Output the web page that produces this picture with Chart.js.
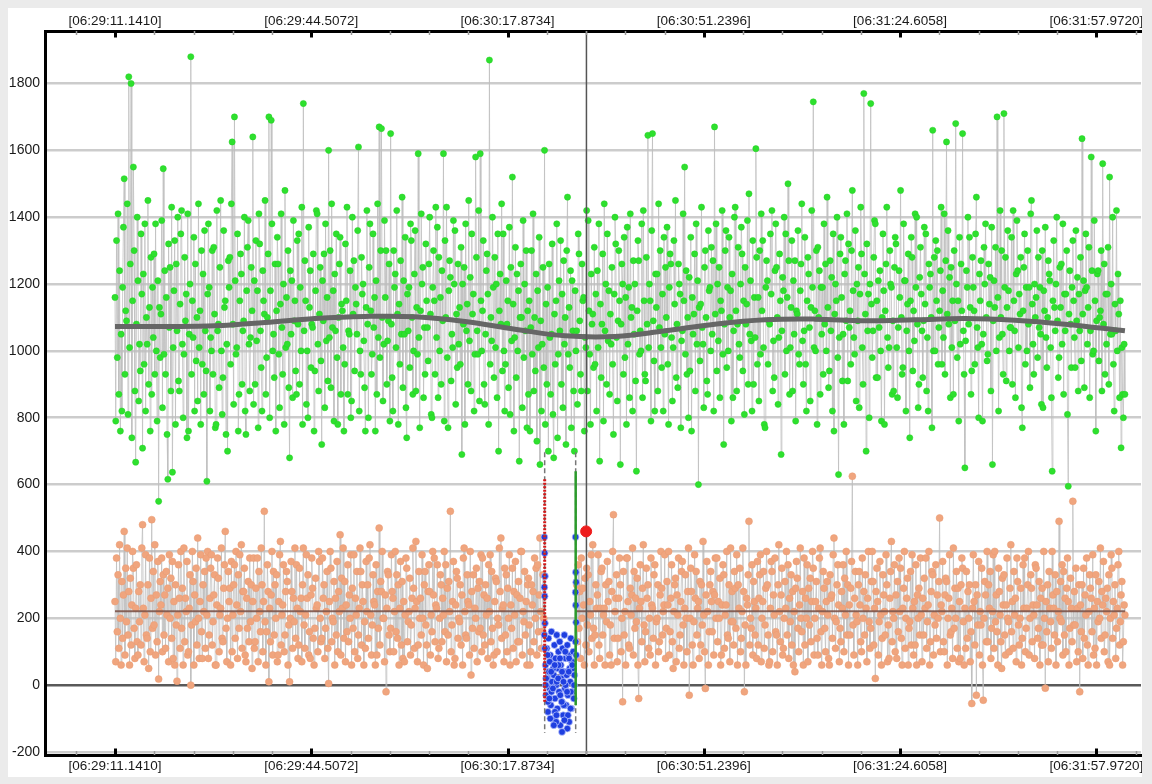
<!DOCTYPE html>
<html><head><meta charset="utf-8">
<script src="https://cdn.jsdelivr.net/npm/chart.js@4.4.0/dist/chart.umd.min.js"></script>
<style>
html,body{margin:0;padding:0;background:#ebebeb;width:1152px;height:784px;overflow:hidden}
#panel{position:absolute;left:8px;top:8px;width:1134px;height:769px;background:#fff;overflow:hidden}
canvas{display:block}
</style></head><body>
<div id="panel"><canvas id="c" width="1134" height="769"></canvas></div>
<script>
// ---- axis / tick data ----
const xTickValues = [0, 33.3662, 66.7324, 100.0986, 133.4648, 166.8310];
const xTickLabels = ['[06:29:11.1410]','[06:29:44.5072]','[06:30:17.8734]','[06:30:51.2396]','[06:31:24.6058]','[06:31:57.9720]'];
const xMinorStep = 6.67324;
const xMin = -11.9, xMax = 174.43;
const yTickValues = [-200, 0, 200, 400, 600, 800, 1000, 1200, 1400, 1600, 1800];
const yMin = -209, yMax = 1957;

// ---- sampled series (seconds after 06:29:11.1410) ----
const sampleStep = 0.13017;
const greenValues = [
1160,790,1330,980,1410,870,1240,760,1050,820,1190,1370,1515,930,1120,1090,1440,810,1820,1010,1260,1800,740,1150,1550,1300,880,667,1080,1400,
1210,850,1020,940,1350,1170,709,1230,960,1380,820,1100,1020,1450,900,1130,760,1280,870,1190,1040,1290,930,1380,1000,790,1210,550,1130,980,
1110,1390,830,1545,990,1240,930,1160,750,616,1320,1070,1250,880,1430,637,1010,1180,1330,780,1260,1060,1400,910,880,1140,1350,1420,1020,800,
990,1280,1090,1170,740,1410,760,1050,1200,1880,930,1150,1040,1340,820,1260,970,1100,850,1440,1010,1120,780,1300,960,1230,870,1360,1060,940,
610,1170,1380,1190,820,1040,1000,1300,930,1310,1110,770,780,1420,1060,1080,890,1250,1450,1000,810,920,1360,1130,1150,750,1020,700,1270,1190,
1280,960,1440,1625,1080,840,1700,1210,990,1010,1350,760,870,1150,1290,1230,900,1060,1090,1400,820,750,1180,1310,1390,1020,880,1040,1250,1120,
1640,840,1210,900,1330,1030,1180,770,1410,1320,1060,950,820,1240,1150,1110,1450,870,980,1100,1290,1700,800,1180,1690,1380,1000,1050,920,1260,
760,1120,1340,1260,990,830,1140,1410,1070,930,1200,780,1480,1010,1160,1020,1300,890,680,1240,1050,1210,860,1390,1090,1150,940,870,1330,1080,
1350,900,1190,1000,1430,780,1740,1060,1270,1150,840,1000,800,1370,1130,1240,950,1080,1070,1290,760,940,1180,1420,1410,1020,880,1110,1250,970,
720,1210,1090,1290,830,1380,1030,1160,910,1600,1040,1300,890,1440,1070,1180,790,1230,1060,1350,980,780,1100,1260,1340,870,1140,1120,1010,760,
960,1320,1150,1430,870,1060,1050,1240,800,850,1400,1110,1270,940,1190,1140,1050,1360,1610,820,1000,930,1280,1170,1200,1030,890,760,1130,1420,
1080,800,1250,1380,1120,930,990,1350,1070,1160,760,1210,870,1440,1040,1670,980,1300,1665,1100,850,1020,1390,1160,1300,900,1030,1090,1260,790,
1650,1080,920,820,1300,1190,1230,1010,1420,1110,780,1140,960,1270,1050,1460,890,1210,1050,1340,830,740,1170,1060,1190,950,1380,1330,1100,870,
1000,1230,1360,880,1130,990,1590,1040,770,1120,1410,1200,1250,860,1070,930,1320,1150,1070,970,1260,1400,1110,810,800,1190,1300,1150,930,1430,
1040,1370,860,1280,1000,1160,900,1240,1090,1590,790,1330,1100,1430,980,770,1180,1270,1220,910,1050,1010,1390,1200,1360,840,1110,950,1260,1020,
1130,960,1310,690,1200,1080,1250,780,1380,1060,1140,900,1450,1030,1220,880,1350,1110,1170,820,990,1580,1280,1060,990,1420,850,1590,1150,1000,
1120,1330,900,840,1050,1240,1290,1170,780,1870,960,1100,1030,1400,1190,920,1280,1010,1200,860,1350,700,1120,1230,1080,1440,940,1350,1000,820,
960,1210,1080,1150,890,1370,810,1250,1030,1520,1140,760,1040,1310,920,1230,1000,1180,670,1100,1260,1100,830,1390,980,1200,1060,1300,770,1120,
870,1150,760,1070,1300,990,1410,880,1100,940,1230,730,1180,1010,1340,660,1090,820,1020,1250,950,1600,780,1140,900,1190,700,1260,1040,870,
1050,1320,810,680,1110,960,1150,1380,740,990,1210,1060,1330,900,1170,830,1270,1020,1100,720,1300,1460,990,1130,950,1240,770,1210,1060,880,
700,1180,1000,1060,840,1350,1290,1090,930,880,1260,1150,1160,760,1040,1010,1420,880,1390,1120,990,780,1230,1080,1110,950,1310,960,1170,820,
1240,1010,1380,670,1140,920,1080,1290,790,1440,1060,1200,900,1350,1030,1180,870,1110,1020,1250,960,750,1170,1400,1320,1040,850,1090,1300,1150,
660,1080,1260,1200,930,1340,980,1160,780,1370,1020,1190,860,1410,1100,1130,820,1270,1050,1200,910,640,1120,1330,1270,990,1060,1000,1380,860,
1420,1150,930,910,1280,1080,1645,1010,1200,1150,790,1360,1650,1090,970,820,1230,1130,1230,880,1440,1070,1300,1010,950,1170,820,1340,1050,1250,
1100,1370,960,780,1190,1290,1260,1040,850,1010,1330,1140,1450,920,1080,890,1260,1200,1170,770,1030,1060,1410,1150,1550,990,1240,930,1100,800,
1220,940,1340,760,1160,1050,1110,1290,880,1380,1020,1210,600,1130,970,1140,1430,1070,1020,830,1250,1300,1100,910,870,1360,1180,1190,1000,1310,
1050,1270,820,1670,1110,1380,940,1200,1030,1250,860,1150,1120,1420,990,720,1080,1300,1360,950,1190,1000,1340,1100,1180,790,1230,860,1060,1400,
1430,1120,880,1080,1310,1020,980,1200,1370,1290,940,1150,810,1250,1080,1140,1390,900,1470,1050,1210,1030,820,1330,900,1160,1040,1605,1280,960,
1160,850,1300,990,1410,1120,1330,1010,780,770,1190,1270,1210,960,1090,1080,1350,1170,1420,880,1030,920,1240,1380,1250,1100,840,1040,1290,1150,
690,1060,1220,1180,1400,930,1350,1000,1160,1500,1270,870,1010,1130,1330,880,1210,1050,1270,790,1120,1110,1360,990,960,1180,1260,1440,1030,900,
1060,1340,960,820,1150,1280,1230,1070,850,1130,1420,1190,1745,1010,1120,1000,1300,780,1310,1100,1240,870,1190,1050,1190,930,1380,1080,1260,1000,
1460,1130,890,940,1270,1060,1220,820,1350,760,1110,1200,1150,1400,980,630,1040,1290,1340,1160,910,1050,780,1230,1270,1090,1410,910,1320,1070,
1120,960,1300,1480,1180,1040,990,1360,850,1200,1090,1250,830,1170,1430,1290,1010,900,1770,1230,1110,700,1320,1060,1170,800,1200,1740,1140,980,
1060,1280,1390,1380,920,1150,920,1210,1070,1240,1000,790,1100,1350,1180,780,1120,1260,1430,1040,950,1010,1300,1200,1190,870,1090,880,1250,1340,
1320,1010,860,1070,1240,1160,1480,1100,930,950,1380,1210,1210,820,1060,1140,1290,1000,740,1150,1340,1280,940,1120,1030,1410,1190,1400,1080,830,
900,1220,1310,1170,1060,920,1090,1370,1140,1350,880,1040,820,1260,1190,1230,1100,770,1660,1000,1280,1000,1330,1150,1300,960,1070,1120,1240,1430,
960,1180,1040,1410,930,1270,1625,1110,1360,1080,1220,860,1250,1010,1150,870,1300,1090,1680,1200,980,1150,790,1340,1020,1260,1120,1650,1060,930,
650,1030,1240,1190,1400,1080,1340,1130,870,940,1280,1190,1120,960,1350,1460,1070,1010,800,1230,1150,1270,1020,790,1050,1310,1200,1380,1100,970,
990,1260,1140,1220,880,1370,660,1090,1210,1130,1310,1000,1700,1160,820,1040,1420,1100,1300,1050,930,1710,1190,1280,910,1130,1360,1180,1000,1070,
1070,1340,900,1420,1150,1060,860,1230,1390,1240,1010,1170,1110,1280,830,770,1120,1250,1350,960,1190,1000,1300,1080,1190,890,1410,1450,1140,1020,
930,1200,1100,1160,1360,980,1280,1070,1190,1050,840,1300,830,1180,1120,1370,1040,950,1100,1270,1230,1210,1010,860,640,1150,1330,1130,1060,1200,
1400,1090,920,980,1250,1130,1260,1020,1380,870,1170,1060,1170,1300,810,595,1110,1240,1080,950,1190,1330,1150,1040,950,1360,1090,1220,880,1170,
1060,1280,970,1635,1110,1210,890,1180,1350,1190,1020,1130,1310,860,1060,1580,1240,990,1000,1390,1150,760,1090,1230,1240,970,1100,1120,1300,880,
1560,1080,1260,930,1170,1020,1170,1310,900,1520,1050,1200,1050,1400,960,820,1140,1060,1420,1000,1230,1110,860,1150,710,1010,870,800,1020,870
];
const orangeValues = [
250,70,380,160,330,110,420,200,60,310,140,270,460,90,350,190,410,150,280,60,320,120,240,400,350,170,80,230,360,130,
90,280,190,300,120,410,480,230,70,210,390,150,140,300,50,380,100,260,495,170,340,180,420,90,270,130,370,18,220,310,
240,380,100,330,150,270,110,340,210,290,70,390,200,320,140,370,80,250,60,300,180,12,210,360,260,110,400,170,290,60,
410,130,260,220,370,90,100,230,330,0,180,400,310,60,270,190,350,120,440,200,80,250,390,160,80,300,220,340,110,380,
210,400,80,150,260,350,390,120,190,270,330,60,60,240,380,320,100,210,230,410,140,130,290,360,460,170,70,200,340,250,
290,60,370,100,210,300,360,140,400,240,80,330,170,390,220,420,110,280,280,350,90,70,260,170,310,130,380,190,300,50,
250,380,110,130,290,200,380,70,340,220,160,410,300,100,250,520,190,60,160,360,280,10,230,130,270,400,90,340,150,300,
200,330,70,90,250,390,430,120,210,240,360,100,150,280,340,310,60,180,10,200,370,280,110,260,190,410,140,360,230,80,
120,350,220,260,70,300,410,180,110,210,390,260,330,90,160,80,270,380,290,140,60,170,320,230,240,100,400,370,200,130,
140,380,260,300,80,170,220,340,110,5,250,400,350,130,200,190,310,60,260,150,370,100,280,220,450,90,320,230,410,140,
310,70,240,160,360,130,270,200,390,60,290,170,390,100,260,210,340,80,150,230,410,340,120,300,250,60,190,110,370,220,
300,140,380,420,210,90,180,330,250,240,60,360,90,280,170,470,120,310,280,400,200,200,70,270,-20,230,340,330,150,100,
170,390,280,260,100,220,400,160,330,140,300,60,230,370,120,310,80,250,70,210,380,350,130,190,220,320,90,180,260,410,
290,110,230,430,250,70,120,340,200,260,150,390,200,60,300,340,180,120,50,280,360,280,90,210,160,400,270,380,130,240,
230,360,80,110,200,330,300,130,260,210,400,160,360,70,290,150,310,220,520,100,180,250,370,60,80,240,340,320,140,200,
190,300,120,270,60,380,410,220,150,140,330,250,240,90,400,30,280,170,330,110,230,200,350,70,290,160,310,170,390,100,
380,150,270,120,300,210,260,80,360,220,390,130,340,170,60,90,250,320,310,100,200,180,410,280,440,140,230,240,70,350,
150,330,100,290,200,390,60,240,170,350,110,280,210,370,70,270,130,310,130,260,400,400,90,220,190,340,150,250,60,300,
320,180,60,100,300,240,280,130,380,200,350,90,360,160,270,440,220,110,160,330,200,null,null,null,null,null,null,null,null,null,
null,null,null,null,null,null,null,null,null,null,null,null,null,null,null,null,null,null,null,null,null,null,null,null,null,null,null,null,null,null,
null,null,null,300,130,360,170,280,80,380,200,290,240,60,320,120,350,180,330,100,250,210,390,140,420,170,60,150,300,230,
270,390,120,80,230,340,350,150,210,230,60,300,190,370,250,310,90,180,60,280,400,510,140,220,260,330,70,140,260,380,
300,100,200,-50,340,150,220,60,380,380,250,120,110,290,210,270,410,90,340,170,260,190,320,60,-40,230,360,250,130,290,
420,180,70,160,350,260,300,110,200,90,380,240,230,140,330,360,60,190,200,300,100,130,270,400,290,150,220,240,390,80,
170,310,240,400,90,160,260,360,130,50,220,300,320,70,270,210,380,110,150,250,340,370,180,60,230,330,200,100,280,410,
-30,200,350,280,120,60,190,390,260,340,150,230,250,80,310,120,300,180,430,210,100,-10,270,370,220,60,160,300,340,250,
160,280,90,270,380,200,380,130,250,200,320,60,90,240,360,330,110,210,240,400,150,140,300,70,410,190,280,190,120,340,
290,170,390,60,300,230,350,100,140,220,410,280,-20,180,60,260,240,330,490,120,200,170,360,90,310,250,150,230,80,370,
120,260,330,390,70,200,250,340,110,180,290,400,300,150,60,70,230,370,340,100,270,210,380,160,150,60,300,420,220,130,
270,350,90,110,200,310,230,400,150,360,80,260,190,330,120,280,60,220,40,290,370,320,170,100,240,410,200,160,280,60,
380,120,260,200,360,70,290,180,320,130,250,400,350,90,200,250,310,140,90,230,380,410,160,60,220,340,290,170,100,250,
310,210,80,60,330,260,270,140,390,440,200,110,190,300,360,240,70,170,130,280,230,360,100,320,210,400,150,300,60,240,
150,290,370,625,180,90,260,340,210,190,60,300,340,240,130,100,380,200,280,150,330,230,70,260,400,190,110,170,310,400,
310,120,230,20,280,350,250,90,190,370,210,60,140,330,270,220,150,390,300,70,180,80,260,340,430,130,220,200,360,100,
270,80,310,160,380,220,350,140,60,230,290,400,110,200,260,320,60,170,190,340,120,390,230,90,250,120,360,60,270,200,
290,150,380,210,70,260,150,320,230,380,110,190,240,400,60,130,280,340,330,90,210,180,360,140,270,200,310,500,100,240,
220,370,130,100,270,320,310,60,200,260,390,150,160,230,80,410,170,290,200,340,110,290,70,250,80,300,380,350,190,60,
230,110,340,140,280,200,300,70,160,-55,230,390,250,120,300,-30,270,180,370,90,220,180,350,60,-45,200,310,270,130,400,
130,300,230,340,80,170,220,390,110,400,190,270,160,60,350,280,210,130,50,320,240,330,150,90,240,380,200,190,100,290,
420,160,250,110,340,210,260,70,380,310,180,120,200,290,60,140,360,230,380,100,170,230,300,400,90,200,330,290,130,240,
210,80,360,350,240,140,170,310,60,260,120,290,120,400,200,-9,250,160,300,70,340,230,190,110,400,270,230,150,330,60,
280,130,220,490,200,310,190,360,90,340,150,260,100,290,380,250,60,170,320,230,130,550,180,280,180,350,70,230,100,300,
-20,240,160,300,80,350,140,270,210,380,120,60,220,330,290,260,160,390,90,230,110,330,60,250,190,310,200,410,140,280,
240,370,100,150,260,220,290,70,330,60,200,390,350,140,250,210,300,80,170,230,360,400,120,190,270,310,60,130,240,210
];

// ---- smoothed trend of the green series ----
const smoothT = [0,8.5,17,25.5,34,42.5,51,59.5,68,76.5,85,93.5,102,110.5,119,127.5,136,144.5,153,161.5,171.7];
const smoothV = [1073,1073,1075,1085,1097,1103,1102,1088,1065,1045,1043,1060,1080,1093,1095,1090,1093,1097,1092,1080,1060];

// ---- orange mean / blue mean ----
const orangeMeanT = [0, 73.05, 75.7, 78.35, 171.7];
const orangeMeanV = [221, 221, null, 221, 221];
const blueMeanT = [73.1, 78.3];
const blueMeanV = [30, 30];

// ---- blue burst ----
const blueT = [73.2,73.3,73.4,73.5,73.6,73.7,73.8,73.9,74.0,74.1,74.2,74.3,74.4,74.5,74.6,74.7,74.8,74.9,75.0,75.1,
75.2,75.3,75.4,75.5,75.6,75.7,75.8,75.9,76.0,76.1,76.2,76.3,76.4,76.5,76.6,76.7,76.8,76.9,77.0,77.1,
77.2,77.3,77.4,77.5,77.6,77.7,77.8,77.9,78.0,78.1,
73.3,73.6,73.9,74.2,74.5,74.8,75.1,75.4,75.7,76.0,76.3,76.6,76.9,77.2,77.5,77.8,
73.25,73.55,73.85,74.15,74.45,74.75,75.05,75.35,75.65,75.95,76.25,76.55,76.85,77.15,77.45,77.75,78.05,
74.0,75.0,76.0,77.0,74.6,76.4,
73.0,73.05,73.1,73.0,73.05,73.1,73.0,73.1,
78.3,78.35,78.4,78.3,78.35,78.4,78.3,78.4];
const blueV = [60,-30,110,20,-80,140,40,-10,90,-60,160,10,70,-100,30,120,-40,80,0,150,
-70,50,100,-20,130,-120,60,20,-50,110,-90,40,150,-10,80,-60,30,120,-30,90,
-110,50,10,140,-70,70,-20,100,-40,30,
20,-50,70,-20,50,-80,10,60,-30,40,-60,0,-130,80,-20,50,
0,90,-40,40,-10,60,-90,20,80,-50,10,100,-20,40,-70,60,0,
-100,-110,-140,-90,-120,-105,
443,395,326,293,266,185,150,110,
443,338,308,278,239,188,130,90];

// ---- markers ----
const redLineT = 73.05, redLineV = [616, -51];
const greenLineT = 78.32, greenLineV = [640, -60];
const dashT = [73.05, 78.32], dashV = [697, -143];
const cursorT = 80.15;
const redDotT = 80.1, redDotV = 460;

// ---- build datasets ----
const greenData = greenValues.map((v,i)=>({x:i*sampleStep, y:v}));
const orangeData = orangeValues.map((v,i)=>({x:i*sampleStep, y:v}));
const smoothData = smoothT.map((t,i)=>({x:t, y:smoothV[i]}));
const orangeMeanData = orangeMeanT.map((t,i)=>({x:t, y:orangeMeanV[i]}));
const blueMeanData = blueMeanT.map((t,i)=>({x:t, y:blueMeanV[i]}));
const blueData = blueT.map((t,i)=>({x:t, y:blueV[i]}));
const dashData = [{x:dashT[0],y:dashV[0]},{x:dashT[0],y:dashV[1]},{x:(dashT[0]+dashT[1])/2,y:null},{x:dashT[1],y:dashV[0]},{x:dashT[1],y:dashV[1]}];

const FONT = "'Liberation Sans', Arial, Helvetica, sans-serif";

const minorTicks = {
  id: 'minorTicks',
  afterDraw(chart){
    const ctx = chart.ctx, xs = chart.scales.x, a = chart.chartArea;
    ctx.save();
    for (let k = -1; k <= 26; k++){
      const v = k * xMinorStep;
      if (v < xs.min || v > xs.max) continue;
      const px = Math.round(xs.getPixelForValue(v)) + 0.5;
      const major = (k % 5 === 0);
      ctx.strokeStyle = major ? '#000' : '#9a9a9a';
      ctx.lineWidth = major ? 3 : 1.5;
      const len = major ? 6.5 : 4;
      ctx.beginPath();
      ctx.moveTo(px, a.top); ctx.lineTo(px, a.top + len);
      ctx.moveTo(px, a.bottom); ctx.lineTo(px, a.bottom - len);
      ctx.stroke();
    }
    ctx.restore();
  }
};

const xScaleBase = (pos, h, pad) => ({
  type: 'linear', position: pos, min: xMin, max: xMax,
  grid: {display: false, drawTicks: false},
  border: {display: true, color: '#000', width: 3},
  afterBuildTicks(s){ s.ticks = xTickValues.map(v=>({value:v})); },
  afterFit(s){ s.height = h; s.paddingLeft = 0; s.paddingRight = 0; },
  ticks: {
    autoSkip: false, maxRotation: 0, padding: pad, color: '#1a1a1a',
    font: {family: FONT, size: 13.5},
    callback: (v, i) => xTickLabels[i]
  }
});

const LINE_GRAY = 'rgba(190,190,190,0.75)';

new Chart(document.getElementById('c'), {
  type: 'line',
  data: { datasets: [
    {label:'red dot', data:[{x:redDotT,y:redDotV}], showLine:false, pointRadius:5.5, pointBackgroundColor:'#ee1c1c', pointBorderColor:'#ee1c1c', order:1},
    {label:'cursor', data:[{x:cursorT,y:yMax},{x:cursorT,y:yMin}], borderColor:'#555', borderWidth:1.5, pointRadius:0, order:2},
    {label:'start', data:[{x:redLineT,y:redLineV[0]},{x:redLineT,y:redLineV[1]}], borderColor:'#d41a1a', borderWidth:3, borderDash:[2,1.5], pointRadius:0, order:3},
    {label:'end', data:[{x:greenLineT,y:greenLineV[0]},{x:greenLineT,y:greenLineV[1]}], borderColor:'#2c9a2c', borderWidth:2.5, pointRadius:0, order:3},
    {label:'bounds', data:dashData, borderColor:'#777', borderWidth:1.5, borderDash:[5,3], pointRadius:0, spanGaps:false, order:4},
    {label:'blue', data:blueData, showLine:false, pointRadius:3.4, pointBackgroundColor:'#1f3fe0', pointBorderColor:'rgba(190,200,255,0.9)', pointBorderWidth:0.8, order:5},
    {label:'blue mean', data:blueMeanData, borderColor:'rgba(125,85,75,0.9)', borderWidth:2, pointRadius:0, order:6},
    {label:'orange mean', data:orangeMeanData, borderColor:'rgba(125,85,75,0.9)', borderWidth:2, pointRadius:0, spanGaps:false, order:7},
    {label:'trend', data:smoothData, borderColor:'#666', borderWidth:5, pointRadius:0, tension:0.4, order:8},
    {label:'orange', data:orangeData, borderColor:LINE_GRAY, borderWidth:1, pointRadius:3.5, pointBackgroundColor:'#f0a57e', pointBorderColor:'#e89a72', pointBorderWidth:0.5, spanGaps:false, order:9},
    {label:'green', data:greenData, borderColor:LINE_GRAY, borderWidth:1, pointRadius:3.1, pointBackgroundColor:'#2ee02e', pointBorderColor:'#22d022', pointBorderWidth:0.5, order:10}
  ]},
  options: {
    responsive: false, animation: false,
    layout: {autoPadding: false, padding: {left:0, top:0, right:1, bottom:0}},
    plugins: {legend:{display:false}, tooltip:{enabled:false}},
    elements: {line:{tension:0}},
    scales: {
      x: xScaleBase('bottom', 22, 3),
      x2: xScaleBase('top', 23, 2),
      y: {
        type:'linear', position:'left', min:yMin, max:yMax, z:1,
        afterBuildTicks(s){ s.ticks = yTickValues.map(v=>({value:v})); },
        afterFit(s){ s.width = 37; s.paddingTop = 0; s.paddingBottom = 0; },
        grid: {
          drawTicks:false, lineWidth:2.5,
          color: c => (c.tick && c.tick.value === 0) ? 'rgba(60,60,60,0.85)' : 'rgba(0,0,0,0.2)'
        },
        border: {display:true, color:'#000', width:3},
        ticks: {padding:5, color:'#1a1a1a', font:{family:FONT, size:14}, callback: v => String(v)}
      }
    }
  },
  plugins: [minorTicks]
});
</script>
</body></html>
